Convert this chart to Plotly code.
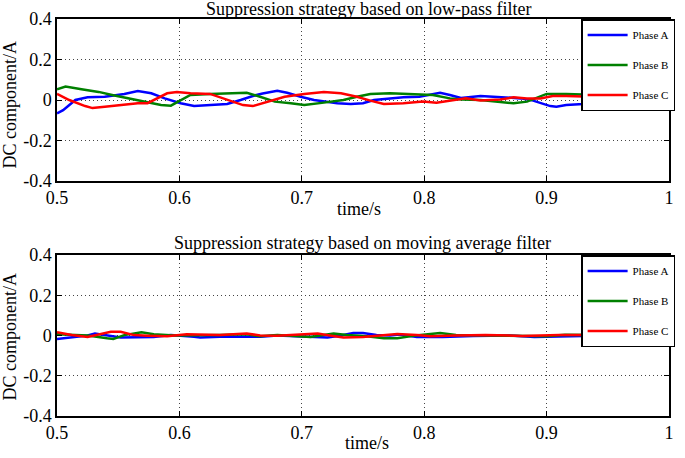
import plotly.graph_objects as go

# ---------------- data ----------------
# Top panel: low-pass filter
lp_a_t = [0.500, 0.505, 0.515, 0.525, 0.539, 0.555, 0.566, 0.577, 0.588, 0.601, 0.612, 0.623, 0.639, 0.650, 0.660,
          0.668, 0.680, 0.688, 0.699, 0.710, 0.718, 0.729, 0.740, 0.750, 0.759, 0.772, 0.783, 0.796, 0.804, 0.813,
          0.821, 0.830, 0.846, 0.862, 0.879, 0.889, 0.895, 0.903, 0.908, 0.916, 0.930, 0.950, 0.970, 1.000]
lp_a_v = [-0.066, -0.050, 0.000, 0.013, 0.016, 0.030, 0.044, 0.033, 0.008, -0.016, -0.030, -0.026, -0.020, 0.000, 0.020,
          0.032, 0.046, 0.036, 0.016, 0.000, -0.008, -0.016, -0.020, -0.016, 0.000, 0.008, 0.013, 0.016, 0.025, 0.036,
          0.025, 0.010, 0.020, 0.013, 0.008, -0.003, -0.016, -0.030, -0.033, -0.025, -0.020, -0.010, -0.020, -0.033]

lp_b_t = [0.500, 0.507, 0.520, 0.534, 0.545, 0.558, 0.571, 0.585, 0.593, 0.601, 0.609, 0.625, 0.641, 0.655, 0.664,
          0.678, 0.691, 0.702, 0.718, 0.734, 0.745, 0.756, 0.772, 0.791, 0.807, 0.821, 0.831, 0.846, 0.862, 0.873,
          0.884, 0.895, 0.900, 0.916, 0.940, 0.970, 1.000]
lp_b_v = [0.053, 0.066, 0.053, 0.040, 0.025, 0.008, -0.008, -0.025, -0.028, 0.000, 0.025, 0.030, 0.033, 0.036, 0.020,
          -0.008, -0.016, -0.025, -0.013, 0.000, 0.016, 0.030, 0.033, 0.030, 0.025, 0.008, 0.003, 0.000, -0.008, -0.016,
          -0.008, 0.016, 0.030, 0.030, 0.025, 0.020, 0.020]

lp_c_t = [0.500, 0.510, 0.523, 0.529, 0.539, 0.552, 0.566, 0.574, 0.582, 0.590, 0.598, 0.609, 0.625, 0.639, 0.652,
          0.660, 0.668, 0.686, 0.702, 0.718, 0.732, 0.745, 0.756, 0.767, 0.783, 0.799, 0.810, 0.826, 0.834, 0.846,
          0.862, 0.873, 0.884, 0.895, 0.905, 0.916, 0.940, 0.970, 1.000]
lp_c_v = [0.030, 0.000, -0.030, -0.040, -0.033, -0.025, -0.016, -0.016, 0.008, 0.033, 0.040, 0.033, 0.030, 0.000, -0.025,
          -0.030, -0.016, 0.016, 0.030, 0.040, 0.033, 0.016, -0.003, -0.020, -0.016, -0.008, -0.013, 0.000, 0.008, -0.003,
          0.003, 0.013, 0.008, 0.008, 0.020, 0.020, 0.015, 0.010, 0.005]

# Bottom panel: moving average filter
ma_a_t = [0.500, 0.515, 0.525, 0.531, 0.542, 0.552, 0.579, 0.593, 0.612, 0.617, 0.633, 0.666, 0.680, 0.713, 0.721,
          0.732, 0.742, 0.750, 0.761, 0.772, 0.780, 0.794, 0.815, 0.840, 0.870, 0.890, 0.910, 0.950, 1.000]
ma_a_v = [-0.017, -0.006, 0.000, 0.010, 0.000, -0.010, -0.008, 0.002, -0.006, -0.010, -0.006, -0.006, 0.000, -0.007, -0.010,
          0.000, 0.012, 0.012, 0.002, 0.000, 0.005, -0.007, -0.007, -0.003, 0.000, -0.008, -0.005, 0.000, 0.000]

ma_b_t = [0.500, 0.525, 0.541, 0.546, 0.555, 0.569, 0.579, 0.596, 0.633, 0.655, 0.666, 0.680, 0.707, 0.726, 0.737,
          0.753, 0.767, 0.778, 0.791, 0.813, 0.826, 0.850, 0.870, 0.900, 0.915, 0.950, 1.000]
ma_b_v = [0.006, 0.000, -0.014, -0.017, 0.002, 0.016, 0.006, 0.000, 0.002, 0.006, -0.004, 0.002, -0.007, 0.010, 0.002,
          -0.004, -0.014, -0.014, -0.001, 0.012, 0.002, 0.000, -0.005, -0.004, 0.004, 0.002, 0.000]

ma_c_t = [0.500, 0.512, 0.525, 0.536, 0.544, 0.552, 0.563, 0.574, 0.590, 0.606, 0.633, 0.655, 0.666, 0.680, 0.713,
          0.724, 0.734, 0.750, 0.764, 0.778, 0.794, 0.805, 0.826, 0.850, 0.880, 0.910, 0.950, 1.000]
ma_c_v = [0.016, 0.002, -0.007, 0.006, 0.019, 0.019, 0.002, -0.001, -0.004, 0.006, 0.002, 0.010, 0.000, -0.001, 0.010,
          -0.001, -0.010, -0.007, 0.002, 0.008, 0.002, -0.004, 0.000, 0.003, -0.002, 0.003, 0.002, -0.002]

series_names = ["Phase A", "Phase B", "Phase C"]
series_colors = ["#0000FF", "#008000", "#FF0000"]

x_tickvals = [0.5, 0.6, 0.7, 0.8, 0.9, 1.0]
x_ticktext = ["0.5", "0.6", "0.7", "0.8", "0.9", "1"]
y_tickvals = [-0.4, -0.2, 0, 0.2, 0.4]
y_ticktext = ["-0.4", "-0.2", "0", "0.2", "0.4"]

titles = ["Suppression strategy based on low-pass filter",
          "Suppression strategy based on moving average filter"]
x_title = "time/s"
y_title = "DC component/A"

# ---------------- figure ----------------
FONT = "Liberation Serif, Times New Roman, serif"
W, H = 685, 458
ML, MR, MT, MB = 57, 10, 19, 42
PH = H - MT - MB
top_dom = [(H - MB - 181) / PH, 1.0]
bot_dom = [0.0, (H - MB - 255) / PH]

fig = go.Figure()

top_data = [(lp_a_t, lp_a_v), (lp_b_t, lp_b_v), (lp_c_t, lp_c_v)]
bot_data = [(ma_a_t, ma_a_v), (ma_b_t, ma_b_v), (ma_c_t, ma_c_v)]

for i, (t, v) in enumerate(top_data):
    fig.add_trace(go.Scatter(x=t, y=v, mode="lines", name=series_names[i],
                             line=dict(color=series_colors[i], width=2.5),
                             xaxis="x", yaxis="y", legend="legend",
                             legendgroup="t" + str(i)))
for i, (t, v) in enumerate(bot_data):
    fig.add_trace(go.Scatter(x=t, y=v, mode="lines", name=series_names[i],
                             line=dict(color=series_colors[i], width=2.5),
                             xaxis="x2", yaxis="y2", legend="legend2",
                             legendgroup="b" + str(i)))

axis_common = dict(showline=True, linecolor="black", linewidth=1.5, mirror="ticks",
                   ticks="inside", ticklen=5, tickcolor="black", tickwidth=1,
                   showgrid=True, gridcolor="#444444", griddash="1px,3px", gridwidth=1,
                   zeroline=False, tickfont=dict(family=FONT, size=18, color="black"))

legend_common = dict(x=1.01, xanchor="right", yanchor="top", bgcolor="white", bordercolor="black", borderwidth=1.5,
                     font=dict(family=FONT, size=11, color="black"), tracegroupgap=11, itemwidth=40)

fig.update_layout(
    width=W, height=H,
    margin=dict(l=ML, r=MR, t=MT, b=MB),
    paper_bgcolor="white", plot_bgcolor="white",
    font=dict(family=FONT, color="black"),
    xaxis=dict(domain=[0, 1], range=[0.5, 1.0], anchor="y", tickvals=x_tickvals, ticktext=x_ticktext, **axis_common),
    yaxis=dict(domain=top_dom, range=[-0.4, 0.4], anchor="x", tickvals=y_tickvals, ticktext=y_ticktext, **axis_common),
    xaxis2=dict(domain=[0, 1], range=[0.5, 1.0], anchor="y2", tickvals=x_tickvals, ticktext=x_ticktext, **axis_common),
    yaxis2=dict(domain=bot_dom, range=[-0.4, 0.4], anchor="x2", tickvals=y_tickvals, ticktext=y_ticktext, **axis_common),
    legend=dict(y=1, **legend_common),
    legend2=dict(y=bot_dom[1], **legend_common),
    showlegend=True,
)

def px_to_paper_y(py):
    return (H - MB - py) / PH

def px_to_paper_x(px):
    return (px - ML) / (W - ML - MR)

ann_font = dict(family=FONT, size=18, color="black")
annots = [
    dict(text=titles[0], x=px_to_paper_x(372), y=px_to_paper_y(9)),
    dict(text=titles[1], x=px_to_paper_x(365), y=px_to_paper_y(243)),
    dict(text=x_title, x=px_to_paper_x(362), y=px_to_paper_y(209)),
    dict(text=x_title, x=px_to_paper_x(370), y=px_to_paper_y(443)),
]
for a in annots:
    fig.add_annotation(xref="paper", yref="paper", xanchor="center", yanchor="middle",
                       showarrow=False, font=ann_font, **a)
for yc in [104, 336]:
    fig.add_annotation(text=y_title, xref="paper", yref="paper", x=px_to_paper_x(10), y=px_to_paper_y(yc),
                       xanchor="center", yanchor="middle", textangle=-90, showarrow=False, font=ann_font)

fig.write_html("out.html", config={"displayModeBar": False},
               post_script="document.body.style.margin='0px';document.body.style.overflow='hidden';")
